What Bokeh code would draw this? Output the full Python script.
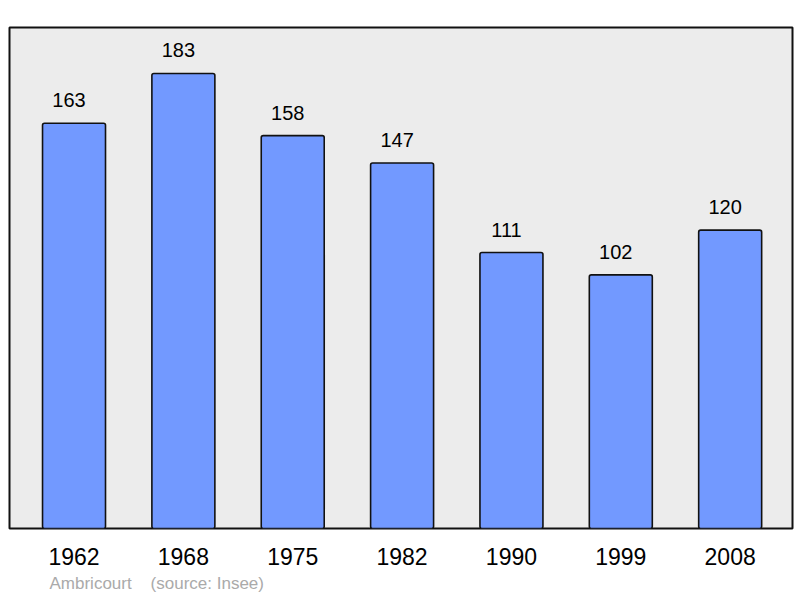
from bokeh.plotting import figure
from bokeh.models import Range1d, FixedTicker, Title
from bokeh.core.properties import value
from bokeh.embed import file_html
from bokeh.resources import INLINE

years = ["1962", "1968", "1975", "1982", "1990", "1999", "2008"]
population = [163, 183, 158, 147, 111, 102, 120]
footer = "Ambricourt\u00a0\u00a0\u00a0\u00a0(source: Insee)"

idx = list(range(len(years)))

p = figure(width=800, height=598, output_backend="svg", toolbar_location=None,
           x_range=Range1d(-0.59, 6.57), y_range=Range1d(0, 201.5),
           min_border_left=9, min_border_right=8, min_border_top=27, min_border_bottom=70)
p.background_fill_color = "#ececec"
p.border_fill_color = "white"
p.outline_line_color = "#111111"
p.outline_line_width = 2
p.grid.visible = False
p.yaxis.visible = False

p.vbar(x=idx, top=population, width=0.576, bottom=0,
       fill_color="#7299ff", line_color="#111111", line_width=1.6, border_radius=2)

p.text(x=idx, y=population, text=[str(v) for v in population], y_offset=-23, x_offset=-5,
       text_align="center", text_baseline="alphabetic", text_font=value("Liberation Sans"),
       text_font_size="20px", text_color="black")

ax = p.xaxis[0]
ax.ticker = FixedTicker(ticks=idx)
ax.major_label_overrides = {i: y for i, y in zip(idx, years)}
ax.axis_line_color = None
ax.major_tick_line_color = None
ax.minor_tick_line_color = None
ax.major_label_text_font = "Liberation Sans"
ax.major_label_text_font_size = "23px"
ax.major_label_text_color = "black"
ax.major_label_standoff = 13

t = Title(text=footer, align="left", offset=40, text_color="#aaaaaa",
          text_font="Liberation Sans", text_font_size="17px", text_font_style="normal",
          standoff=8)
p.add_layout(t, "below")

open("out.html", "w").write(file_html(p, INLINE))
